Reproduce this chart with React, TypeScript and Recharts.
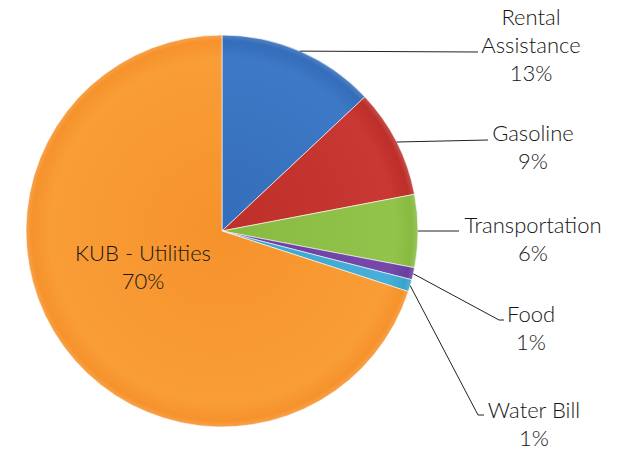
import React from 'react';
import { PieChart, Pie, Cell } from 'recharts';

const categories = ['Rental Assistance', 'Gasoline', 'Transportation', 'Food', 'Water Bill', 'KUB - Utilities'];
const shares = [13, 9, 6, 1, 1, 70];
const percentLabels = ['13%', '9%', '6%', '1%', '1%', '70%'];

const colors = ['#346dba', '#bd2f2a', '#88ba42', '#6a3e9e', '#3aa3cc', '#f6922c'];
const lightColors = ['#3d79c6', '#c93833', '#92c44b', '#7548aa', '#48b0d8', '#f99d36'];

const data = categories.map((name, i) => ({ name, value: shares[i] }));

// where each label's text block sits (center x, first line center y), and the elbow of its leader line
const labelLayout = [
  { x: 531, y: 16, lines: ['Rental', 'Assistance'], lineEnd: [478, 52], elbow: null },
  { x: 533, y: 132, lines: ['Gasoline'], lineEnd: [488, 140], elbow: null },
  { x: 533, y: 224, lines: ['Transportation'], lineEnd: [459, 231], elbow: null },
  { x: 531, y: 313, lines: ['Food'], lineEnd: [504, 320], elbow: [499, 320] },
  { x: 534, y: 409, lines: ['Water Bill'], lineEnd: [484, 415], elbow: [478, 415] },
  { x: 143, y: 252, lines: ['KUB - Utilities'], lineEnd: null, elbow: null },
];

const RADIAN = Math.PI / 180;
const textStyle = { fontFamily: 'Lato, "Open Sans", sans-serif', fontWeight: 300, fontSize: 22, fill: '#161616' };

const renderLabel = (props: any) => {
  const { cx, cy, midAngle, outerRadius, index } = props;
  const lay = labelLayout[index];
  const sx = cx + outerRadius * Math.cos(-midAngle * RADIAN);
  const sy = cy + outerRadius * Math.sin(-midAngle * RADIAN);
  const lines = [...lay.lines, percentLabels[index]];
  let pts = '';
  if (lay.lineEnd) {
    const p = [[sx, sy]];
    if (lay.elbow) p.push(lay.elbow);
    p.push(lay.lineEnd);
    pts = p.map(q => q.join(',')).join(' ');
  }
  return (
    <g key={`lbl-${index}`}>
      {pts && <polyline points={pts} fill="none" stroke="#222" strokeWidth={1} />}
      {lines.map((t, j) => (
        <text key={j} x={lay.x} y={lay.y + j * 28} textAnchor="middle" dominantBaseline="central" style={textStyle}>
          {t}
        </text>
      ))}
    </g>
  );
};

export default function App() {
  return (
    <div style={{ position: 'absolute', left: 0, top: 0, width: 624, height: 449, background: '#fff' }}>
      <PieChart width={624} height={449} margin={{ top: 0, right: 0, bottom: 0, left: 0 }}>
        <defs>
          {colors.map((c, i) => (
            <radialGradient key={i} id={`g${i}`} cx="222" cy="231" r="196" gradientUnits="userSpaceOnUse">
              <stop offset="0%" stopColor={colors[i]} />
              <stop offset="88%" stopColor={lightColors[i]} />
              <stop offset="97%" stopColor={colors[i]} />
              <stop offset="100%" stopColor={c} stopOpacity={0.85} />
            </radialGradient>
          ))}
        </defs>
        <Pie
          data={data}
          dataKey="value"
          nameKey="name"
          cx={222}
          cy={231}
          outerRadius={196}
          startAngle={90}
          endAngle={-270}
          stroke="#ffffff"
          strokeWidth={0.6}
          labelLine={false}
          label={renderLabel}
          isAnimationActive={false}
        >
          {data.map((d, i) => (
            <Cell key={d.name} fill={`url(#g${i})`} />
          ))}
        </Pie>
      </PieChart>
    </div>
  );
}
